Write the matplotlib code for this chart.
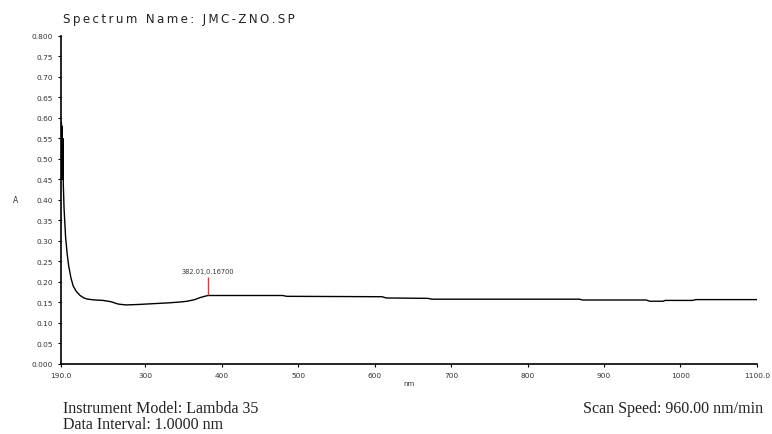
import matplotlib
matplotlib.use("Agg")
import matplotlib.pyplot as plt

# Absorbance spectrum (wavelength in nm, absorbance A)
wavelength = [190, 190.5, 191, 191.5, 192, 192.5, 193, 194, 196, 198, 200, 203, 206,
              210, 215, 220, 225, 235, 245, 255, 265, 275, 290, 310, 330, 345, 355,
              365, 372, 382.01, 480, 485, 610, 615, 670, 675, 868, 872, 955, 960,
              977, 980, 1016, 1020, 1100]
absorbance = [0.45, 0.59, 0.47, 0.58, 0.45, 0.55, 0.44, 0.38, 0.31, 0.27, 0.24, 0.21,
              0.19, 0.177, 0.167, 0.161, 0.158, 0.156, 0.155, 0.152, 0.146, 0.144,
              0.145, 0.147, 0.149, 0.151, 0.153, 0.157, 0.162, 0.167, 0.167, 0.165,
              0.164, 0.161, 0.160, 0.158, 0.158, 0.156, 0.156, 0.153, 0.153, 0.155,
              0.155, 0.157, 0.157]

peak_nm = 382.01
peak_A = 0.167

x_ticks = [190, 300, 400, 500, 600, 700, 800, 900, 1000, 1100]
x_tick_labels = ["190.0", "300", "400", "500", "600", "700", "800", "900", "1000", "1100.0"]
y_ticks = [0.0, 0.05, 0.10, 0.15, 0.20, 0.25, 0.30, 0.35, 0.40, 0.45, 0.50, 0.55,
           0.60, 0.65, 0.70, 0.75, 0.80]
y_tick_labels = ["0.000", "0.05", "0.10", "0.15", "0.20", "0.25", "0.30", "0.35",
                 "0.40", "0.45", "0.50", "0.55", "0.60", "0.65", "0.70", "0.75", "0.800"]

TRACK = "\u2009"  # thin space used as letter tracking


def tracked(s, sep=TRACK):
    return sep.join(s)


fig = plt.figure(figsize=(7.72, 4.35), dpi=100)
ax = fig.add_axes([0.079, 0.161, 0.9015, 0.754])

ax.plot(wavelength, absorbance, color="black", linewidth=1.0)

# Peak pick marker
ax.vlines(peak_nm, peak_A, peak_A + 0.046, color="#e8323c", linewidth=1.0)
ax.text(peak_nm, peak_A + 0.052, f"{peak_nm:.2f},{peak_A:.5f}", ha="center",
        va="bottom", fontsize=4.8, color="#333333")

ax.set_xlim(190, 1100)
ax.set_ylim(0, 0.8)
ax.set_xticks(x_ticks)
ax.set_xticklabels(x_tick_labels)
ax.set_yticks(y_ticks)
ax.set_yticklabels(y_tick_labels)

for side in ("top", "right"):
    ax.spines[side].set_visible(False)
for side in ("left", "bottom"):
    ax.spines[side].set_linewidth(1.2)

ax.tick_params(axis="both", direction="out", length=2.5, width=0.8,
               labelsize=5.3, labelcolor="#333333", pad=3)

ax.set_xlabel("nm", fontsize=5, color="#333333", labelpad=2)
ax.set_ylabel("A", fontsize=5.5, color="#333333", rotation=0, labelpad=12, va="center")

fig.text(0.081, 0.955, tracked("Spectrum Name: JMC-ZNO.SP"), fontsize=8.6,
         family="DejaVu Sans", color="#222222", va="center")

fig.text(0.081, 0.060, "Instrument Model: Lambda 35", fontsize=11.5,
         family="Liberation Serif", color="#222222", va="center")
fig.text(0.081, 0.023, "Data Interval: 1.0000 nm", fontsize=11.5,
         family="Liberation Serif", color="#222222", va="center")
fig.text(0.989, 0.060, "Scan Speed: 960.00 nm/min", fontsize=11.5,
         family="Liberation Serif", color="#222222", va="center", ha="right")

fig.savefig("out.png", dpi=100, facecolor="white")
